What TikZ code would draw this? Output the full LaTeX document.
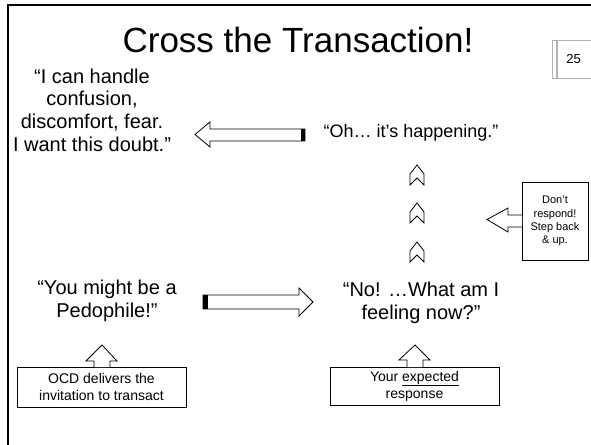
\documentclass[tikz,border=0pt]{standalone}
\usepackage{fontspec}
\setmainfont{Liberation Sans}
\begin{document}
\begin{tikzpicture}[x=1pt,y=-1pt,
  every node/.style={inner sep=0pt,outer sep=0pt},
  body/.style={font=\fontsize{20}{22.6}\selectfont,align=center},
  small/.style={font=\fontsize{14}{17}\selectfont,align=center},
  tiny/.style={font=\fontsize{11}{13.2}\selectfont,align=center},
  blockarrow/.style={draw=black,fill=white,line width=0.8pt,line join=miter},
  textbox/.style={draw=black,line width=0.8pt},
  chev/.pic={\draw[line width=0.8pt,line join=miter] (0,0) -- (7,9) -- (7,20) -- (0,13) -- (-7,20) -- (-7,9) -- cycle;}
]
\useasboundingbox (0,0) rectangle (591,444);
% slide frame
\draw[line width=2.6pt] (8,446) -- (8,5) -- (595,5);
% page number
\draw[gray!60,line width=0.6pt] (552.5,40) rectangle (556,78);
\draw[gray!60,line width=0.6pt] (557.5,40) rectangle (600,78);
\node (pg) at (573.5,59.5) {\fontsize{13}{15}\selectfont 25};
% title
\node (title) at (298,40) {\fontsize{35}{40}\selectfont Cross the Transaction!};
% texts
\node[body] (doubt) at (92,110) {“I can handle\\confusion,\\discomfort, fear.\\I want this doubt.”};
\node[body,font=\fontsize{18}{22}\selectfont] (happen) at (411,133) {“Oh… it’s happening.”};
\node[body] (pedo) at (107,301) {“You might be a\\Pedophile!”};
\node[body] (feel) at (421,303) {“No! …What am I\\feeling now?”};
% boxes
\node[textbox,small,minimum width=169pt,minimum height=40pt] (ocd) at (101.5,387) {OCD delivers the\\invitation to transact};
\node[textbox,small,minimum width=169pt,minimum height=38pt] (resp) at (414.5,386) {Your \underline{expected}\\response};
\node[textbox,tiny,minimum width=66pt,minimum height=78pt] (step) at (555,221) {Don’t\\respond!\\Step back\\\& up.};
% left arrow (striped tail)
\draw[blockarrow] (305,129) -- (210,129) -- (210,122) -- (195,134.5) -- (210,147) -- (210,141) -- (305,141) -- cycle;
\fill[black] (301,129) rectangle (305,141);
% right arrow (striped tail)
\draw[blockarrow] (203,295) -- (299,295) -- (299,288) -- (313,302) -- (299,316) -- (299,309) -- (203,309) -- cycle;
\fill[black] (203,295) rectangle (208,309);
% up arrows into the texts
\draw[blockarrow] (ocd.north -| 94,0) -- (94,361) -- (86,361) -- (102,345) -- (117,361) -- (110,361) -- (ocd.north -| 110,0);
\draw[blockarrow] (resp.north -| 407,0) -- (407,360) -- (399,360) -- (415,345) -- (430,360) -- (423,360) -- (resp.north -| 423,0);
% callout arrow
\draw[blockarrow] (step.west |- 0,215) -- (508,215) -- (508,208) -- (487,219.5) -- (508,232) -- (508,227) -- (step.west |- 0,227);
% chevrons
\pic at (417,165) {chev};
\pic at (417,203) {chev};
\pic at (417,242) {chev};
\end{tikzpicture}
\end{document}
